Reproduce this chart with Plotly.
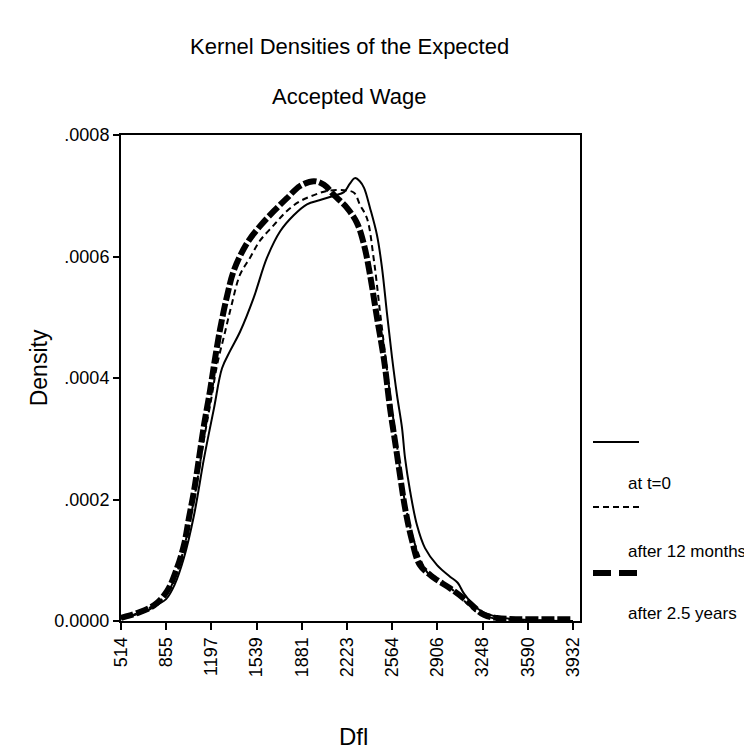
import plotly.graph_objects as go

# kernel density of the expected accepted wage (Dfl)
x_t0 = [514, 600, 700, 800, 855, 920, 990, 1066, 1142, 1217, 1278, 1340, 1416,
        1517, 1618, 1719, 1820, 1920, 2020, 2125, 2200, 2245, 2283, 2320, 2352,
        2397, 2450, 2488, 2526, 2563, 2601, 2639, 2662, 2700, 2752, 2813, 2904,
        3002, 3060, 3108, 3206, 3335, 3500, 3700, 3932]
d_t0 = [0.000004, 0.000009, 0.000016, 0.000028, 0.000036, 0.000060, 0.000104,
        0.000174, 0.000268, 0.000350, 0.000416, 0.000445, 0.000477, 0.000532,
        0.000598, 0.000642, 0.000668, 0.000686, 0.000693, 0.000700, 0.000706,
        0.000720, 0.000729, 0.000724, 0.000713, 0.000680, 0.000635, 0.000581,
        0.000505, 0.000435, 0.000372, 0.000318, 0.000268, 0.000214, 0.000158,
        0.000120, 0.000092, 0.000073, 0.000063, 0.000045, 0.000021, 0.000008,
        0.000003, 0.000001, 0.0]

x_12m = [514, 600, 700, 800, 855, 937, 990, 1066, 1142, 1200, 1240, 1300, 1350,
         1414, 1490, 1565, 1671, 1769, 1868, 1973, 2072, 2200, 2276, 2321, 2374,
         2427, 2472, 2503, 2550, 2600, 2650, 2700, 2760, 2830, 2906, 3000, 3100,
         3200, 3300, 3450, 3700, 3932]
d_12m = [0.000004, 0.000010, 0.000018, 0.000032, 0.000042, 0.000080, 0.000120,
         0.000200, 0.000300, 0.000370, 0.000421, 0.000475, 0.000520, 0.000570,
         0.000598, 0.000626, 0.000652, 0.000675, 0.000691, 0.000701, 0.000708,
         0.000709, 0.000705, 0.000685, 0.000663, 0.000593, 0.000510, 0.000454,
         0.000370, 0.000290, 0.000210, 0.000155, 0.000112, 0.000080, 0.000066,
         0.000055, 0.000035, 0.000015, 0.000006, 0.000002, 0.000001, 0.0]

x_25y = [514, 559, 635, 764, 862, 937, 990, 1028, 1066, 1104, 1142, 1187, 1217,
         1263, 1316, 1369, 1467, 1565, 1671, 1769, 1868, 1973, 2049, 2125, 2223,
         2299, 2352, 2397, 2450, 2503, 2548, 2586, 2624, 2662, 2715, 2775, 2881,
         3002, 3131, 3259, 3357, 3500, 3700, 3932]
d_25y = [0.000005, 0.000008, 0.000013, 0.000026, 0.000049, 0.000087, 0.000125,
         0.000170, 0.000214, 0.000268, 0.000323, 0.000379, 0.000421, 0.000480,
         0.000535, 0.000578, 0.000622, 0.000650, 0.000675, 0.000696, 0.000716,
         0.000724, 0.000718, 0.000701, 0.000680, 0.000655, 0.000619, 0.000570,
         0.000499, 0.000430, 0.000351, 0.000296, 0.000240, 0.000186, 0.000132,
         0.000092, 0.000071, 0.000054, 0.000033, 0.000010, 0.000005, 0.000003,
         0.000003, 0.000003]

x_ticks = [514, 855, 1197, 1539, 1881, 2223, 2564, 2906, 3248, 3590, 3932]
y_ticks = [0.0, 0.0002, 0.0004, 0.0006, 0.0008]
y_ticktext = ["0.0000", ".0002", ".0004", ".0006", ".0008"]
series_names = ["at t=0", "after 12 months", "after 2.5 years"]

FONT = "Liberation Sans, Arial, sans-serif"
L, R, T, B = 113, 572, 127, 613  # plot area in pixels


def px(x):
    return (x - L) / (R - L)


def py(y):
    return (B - y) / (B - T)


fig = go.Figure()
fig.add_trace(go.Scatter(x=x_t0, y=d_t0, mode="lines", line_shape="spline",
                         line=dict(color="black", width=2), name=series_names[0]))
fig.add_trace(go.Scatter(x=x_12m, y=d_12m, mode="lines", line_shape="spline",
                         line=dict(color="black", width=2, dash="6px,4px"),
                         name=series_names[1]))
fig.add_trace(go.Scatter(x=x_25y, y=d_25y, mode="lines", line_shape="spline",
                         line=dict(color="black", width=6, dash="13px,3px"),
                         name=series_names[2]))

axis = dict(showgrid=False, zeroline=False, showline=True, linecolor="black",
            linewidth=2, mirror=True, ticks="outside", tickcolor="black",
            tickwidth=2, tickfont=dict(family=FONT, size=18, color="black"))
fig.update_xaxes(range=[514, 3985], tickvals=x_ticks, tickangle=-90, ticklen=7, **axis)
fig.update_yaxes(range=[0, 0.0008], tickvals=y_ticks, ticktext=y_ticktext,
                 ticklen=6, **axis)

# legend drawn by hand: sample line above its label
legend_rows = [(434, 475, dict(width=2)),
               (499, 543, dict(width=2, dash="6px,4px")),
               (565, 605, dict(width=6, dash="18px,8px"))]
for (ly, ty, style), name in zip(legend_rows, series_names):
    fig.add_shape(type="line", xref="paper", yref="paper",
                  x0=px(585), x1=px(631), y0=py(ly), y1=py(ly),
                  line=dict(color="black", **style))
    fig.add_annotation(text=name, xref="paper", yref="paper", x=px(618), y=py(ty),
                       xanchor="left", yanchor="middle", showarrow=False,
                       font=dict(family=FONT, size=17, color="black"))

for text, y in [("Kernel Densities of the Expected", 39), ("Accepted Wage", 88)]:
    fig.add_annotation(text=text, xref="paper", yref="paper", x=px(341), y=py(y),
                       xanchor="center", yanchor="middle", showarrow=False,
                       font=dict(family=FONT, size=22, color="black"))
fig.add_annotation(text="Density", xref="paper", yref="paper", x=px(31), y=0.52,
                   xanchor="center", yanchor="middle", textangle=-90, showarrow=False,
                   font=dict(family=FONT, size=23, color="black"))
fig.add_annotation(text="Dfl", xref="paper", yref="paper", x=px(345), y=py(728),
                   xanchor="center", yanchor="middle", showarrow=False,
                   font=dict(family=FONT, size=24, color="black"))

fig.update_layout(width=752, height=752, showlegend=False,
                  paper_bgcolor="white", plot_bgcolor="white",
                  margin=dict(l=L, r=752 - R, t=T, b=752 - B))
fig.write_html("out.html")
